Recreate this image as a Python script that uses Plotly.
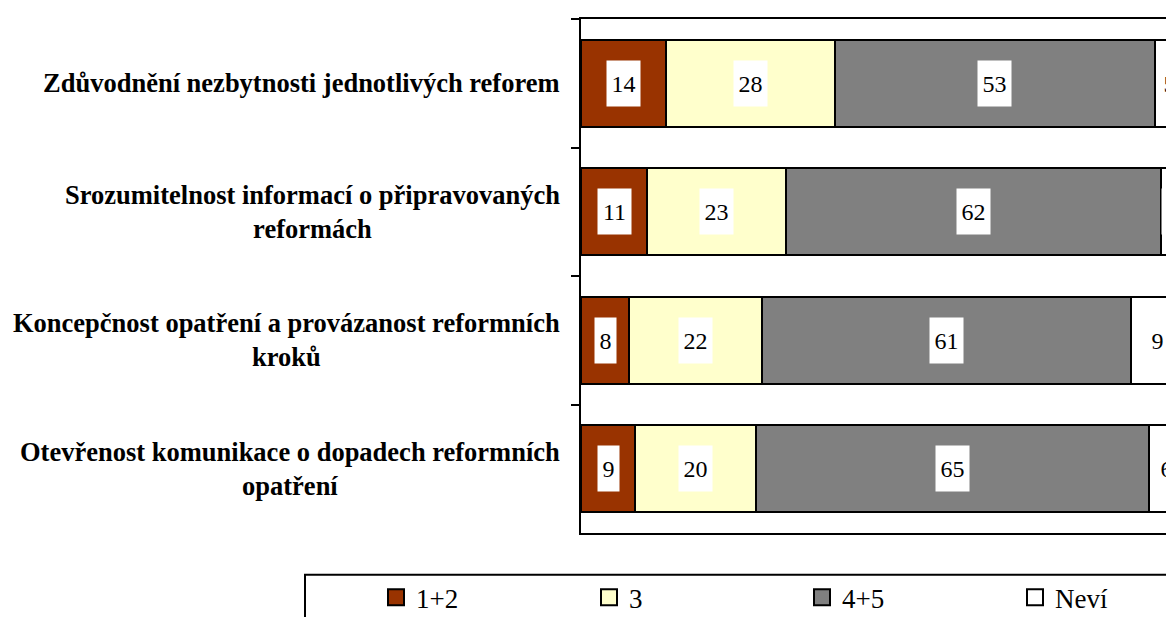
import plotly.graph_objects as go

categories = [
    "Zdůvodnění nezbytnosti jednotlivých reforem",
    "Srozumitelnost informací o připravovaných<br>reformách",
    "Koncepčnost opatření a provázanost reformních<br>kroků",
    "Otevřenost komunikace o dopadech reformních<br>opatření",
]
series_names = ["1+2", "3", "4+5", "Neví"]
v_12 = [14, 11, 8, 9]
v_3 = [28, 23, 22, 20]
v_45 = [53, 62, 61, 65]
v_nevi = [5, 4, 9, 6]
colors = ["#993300", "#FFFFCC", "#808080", "#FFFFFF"]

series = [v_12, v_3, v_45, v_nevi]
FONT = "Liberation Serif, Times New Roman, serif"

# page body has an 8px margin; figure coords = page coords - 8
PL, PT, PW, PH = 573, 9, 604, 516   # plot area in figure px (100 units wide)
W, H = 1260, 680

fig = go.Figure()
for name, vals, col in zip(series_names, series, colors):
    fig.add_trace(go.Bar(
        y=categories, x=vals, name=name, orientation="h",
        marker=dict(color=col, line=dict(color="black", width=2)),
        width=0.674, showlegend=False,
    ))
    # legend entry with a larger square symbol
    fig.add_trace(go.Scatter(
        x=[None], y=[None], mode="markers", name=name,
        marker=dict(symbol="square", size=16, color=col,
                    line=dict(color="black", width=2)),
        showlegend=True, hoverinfo="skip",
    ))

# data labels with white boxes
for i, cat in enumerate(categories):
    cum = 0
    for vals in series:
        v = vals[i]
        mid = cum + v / 2
        cum += v
        n = len(str(v))
        fig.add_annotation(
            x=mid, y=cat, xref="x", yref="y", text=str(v), showarrow=False,
            font=dict(family=FONT, size=24, color="black"),
            bgcolor="white", width=12 * n + 7, height=43,
        )
    fig.add_annotation(
        x=0, y=cat, xref="paper", yref="y", text="<b>" + cat + "</b>",
        showarrow=False, xanchor="right", align="center", xshift=-19,
        font=dict(family=FONT, size=26.5, color="black"),
    )

# legend frame
fig.add_shape(type="rect", xref="paper", yref="paper",
              x0=(297 - PL) / PW, x1=1.3, y0=(PT + PH - 567) / PH, y1=-0.6,
              line=dict(color="black", width=2), fillcolor="rgba(0,0,0,0)")

fig.update_layout(
    width=W, height=H,
    margin=dict(l=PL, r=W - PL - PW, t=PT, b=H - PT - PH),
    paper_bgcolor="white", plot_bgcolor="white",
    barmode="stack",
    showlegend=True,
    legend=dict(orientation="h", x=(368 - PL) / PW, xanchor="left",
                y=(PT + PH - 590) / PH, yanchor="middle",
                font=dict(family=FONT, size=27, color="black"),
                entrywidth=168, entrywidthmode="pixels",
                traceorder="normal", bgcolor="rgba(0,0,0,0)",
                borderwidth=0),
    font=dict(family=FONT, color="black"),
)
fig.update_xaxes(range=[0, 100], showgrid=False, zeroline=False,
                 showticklabels=False, ticks="", showline=True,
                 linecolor="black", linewidth=2, mirror=True)
fig.update_yaxes(autorange="reversed", showgrid=False, showticklabels=False,
                 ticks="outside", tickson="boundaries", ticklen=8,
                 tickwidth=2, tickcolor="black",
                 showline=True, linecolor="black", linewidth=2, mirror=True)

fig.write_html("out.html")
